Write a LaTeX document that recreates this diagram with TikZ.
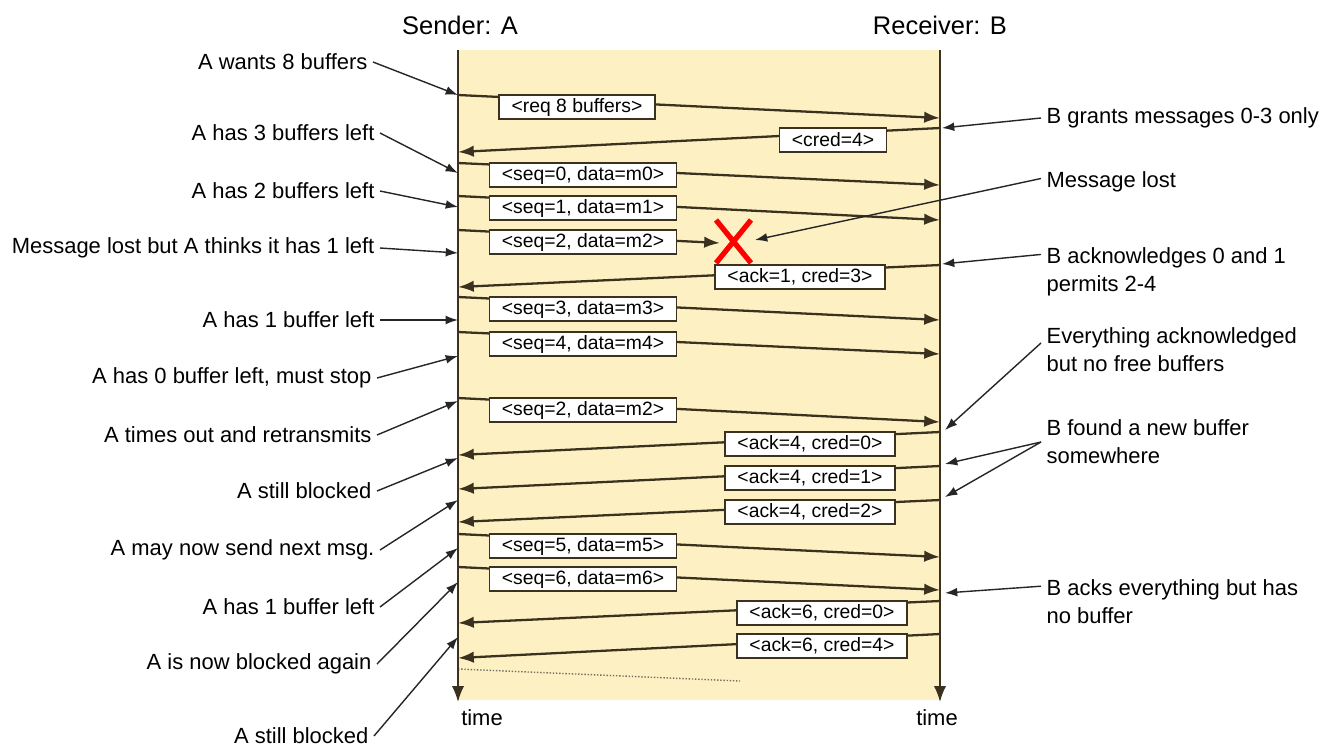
\documentclass[tikz,border=0pt]{standalone}
\usepackage{fontspec}
\setmainfont{Liberation Sans}
\usetikzlibrary{arrows.meta, positioning}

\definecolor{band}{RGB}{253,241,196}
\definecolor{wire}{RGB}{58,50,30}

\begin{document}
\begin{tikzpicture}[x=0.02cm, y=-0.02cm,
  msg/.style = {draw=wire, line width=1pt, fill=white, font=\fontsize{11}{12}\selectfont, inner xsep=7pt, inner ysep=1pt, minimum height=14pt},
  msgline/.style = {wire, line width=1.3pt, -{Latex[length=9pt, width=6.5pt]}},
  note/.style = {font=\fontsize{12.5}{16}\selectfont, inner sep=3pt, align=left},
  pointer/.style = {black!85, line width=0.8pt, -{Latex[length=7pt, width=5pt]}},
  title/.style = {font=\fontsize{14.5}{17}\selectfont}]
\useasboundingbox (0,0) rectangle (1330,755);
\fill[band] (458,50) rectangle (940,700);

% time lines
\coordinate (Atop) at (458,50);
\coordinate (Abot) at (458,702);
\coordinate (Btop) at (940,50);
\coordinate (Bbot) at (940,702);
\node[title] (sender) at (460,25) {Sender: A};
\node[title] (receiver) at (940,25) {Receiver: B};

% A -> B
\foreach \ya/\yb/\xc/\txt [count=\i] in {95/118/577/{<req 8 buffers>},
    163/185/583/{<seq=0, data=m0>}, 196/220/583/{<seq=1, data=m1>},
    297/320/583/{<seq=3, data=m3>}, 332/354/583/{<seq=4, data=m4>},
    398/422/583/{<seq=2, data=m2>}, 534/557/583/{<seq=5, data=m5>},
    567/590/583/{<seq=6, data=m6>}}
{
  \coordinate (sa\i) at (458,\ya);
  \coordinate (sb\i) at (940,\yb);
  \draw[msgline] (sa\i) -- (sb\i);
  \node[msg] (s\i) at (\xc,\ya+12) {\txt};
}

% B -> A
\foreach \yb/\ya/\xc/\txt [count=\i] in {128/152/833/{<cred=4>},
    265/287/800/{<ack=1, cred=3>}, 432/455/810/{<ack=4, cred=0>},
    466/489/810/{<ack=4, cred=1>}, 500/522/810/{<ack=4, cred=2>},
    601/623/822/{<ack=6, cred=0>}, 634/658/822/{<ack=6, cred=4>}}
{
  \coordinate (rb\i) at (940,\yb);
  \coordinate (ra\i) at (458,\ya);
  \draw[msgline] (rb\i) -- (ra\i);
  \node[msg] (r\i) at (\xc,\yb+12) {\txt};
}

% the lost one
\coordinate (lost) at (733,242);
\coordinate (sa0) at (458,230);
\draw[msgline] (sa0) -- ([shift={(-13,1)}]lost);
\node[msg] (s0) at (583,242) {<seq=2, data=m2>};
\draw[red, line width=3pt] ([shift={(-17,-22)}]lost) -- ([shift={(18,21)}]lost)
  ([shift={(18,-22)}]lost) -- ([shift={(-17,21)}]lost);

\coordinate (dotA) at (458,669);
\coordinate (dotB) at (740,681);
\draw[wire!70, densely dotted, line width=0.8pt] (dotA) -- (dotB);

\draw[wire, line width=1.1pt, -{Latex[length=9pt, width=7pt]}] (Atop) -- (Abot);
\draw[wire, line width=1.1pt, -{Latex[length=9pt, width=7pt]}] (Btop) -- (Bbot);
\node[note] (timeA) at (482,718) {time};
\node[note] (timeB) at (937,718) {time};

% notes for A
\foreach \x/\y/\ty/\txt [count=\i] in {368/62/95/{A wants 8 buffers},
    375/133/173/{A has 3 buffers left}, 375/191/207/{A has 2 buffers left},
    375/248/253/{Message lost but A thinks it has 1 left},
    375/320/320/{A has 1 buffer left}, 372/378/356/{A has 0 buffer left, must stop},
    372/435/401/{A times out and retransmits}, 372/491/458/{A still blocked},
    375/550/500/{A may now send next msg.}, 375/607/548/{A has 1 buffer left},
    372/664/582/{A is now blocked again}, 369/736/637/{A still blocked}}
{
  \node[note, anchor=east] (L\i) at (\x+5,\y) {\txt};
  \coordinate (pA\i) at (458,\ty);
  \draw[pointer] (L\i.east) -- (pA\i);
}

% notes for B
\node[note, anchor=west] (R1) at (1041,118) {B grants messages 0-3 only};
\node[note, anchor=west] (R2) at (1041,182) {Message lost};
\node[note, anchor=west] (R3) at (1041,272) {B acknowledges 0 and 1\\permits 2-4};
\node[note, anchor=west] (R4) at (1041,350) {Everything acknowledged\\but no free buffers};
\node[note, anchor=west] (R5) at (1041,442) {B found a new buffer\\somewhere};
\node[note, anchor=west] (R6) at (1041,602) {B acks everything but has\\no buffer};
\coordinate (pB1) at (942,128);
\coordinate (pB3) at (942,264);
\coordinate (pB4) at (945,430);
\coordinate (pB5) at (945,464);
\coordinate (pB6) at (945,497);
\coordinate (pB7) at (945,593);
\draw[pointer] (R1.west) -- (pB1);
\draw[pointer] ([yshift=2pt]R2.west) -- ([shift={(22,-2)}]lost);
\draw[pointer] ([yshift=10pt]R3.west) -- (pB3);
\draw[pointer] ([yshift=4pt]R4.west) -- (pB4);
\draw[pointer] (R5.west) -- (pB5);
\draw[pointer] (R5.west) -- (pB6);
\draw[pointer] ([yshift=9pt]R6.west) -- (pB7);
\end{tikzpicture}
\end{document}
